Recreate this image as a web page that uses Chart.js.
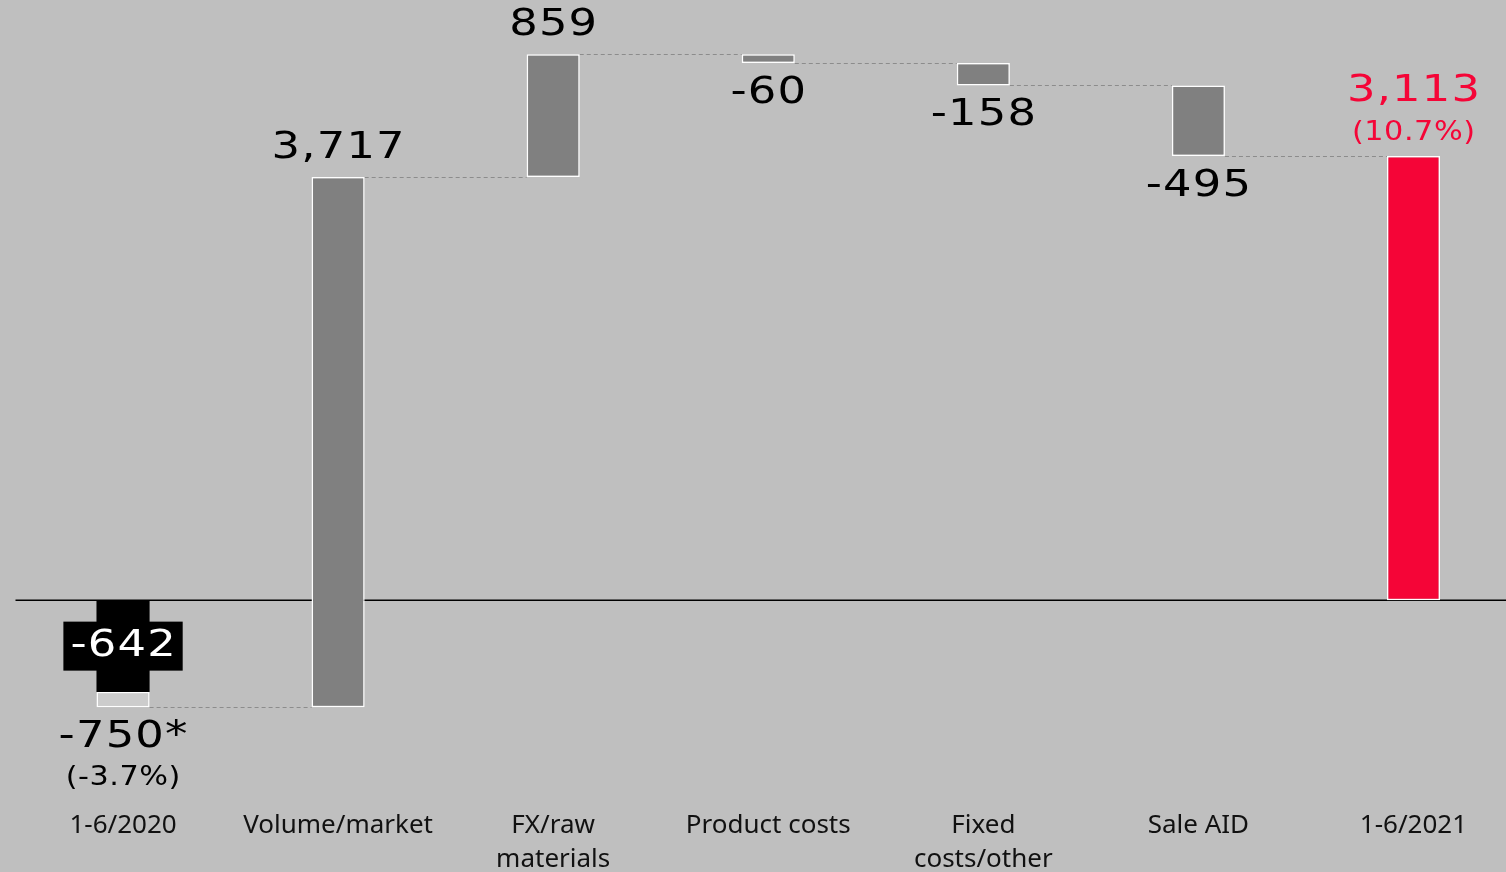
<!DOCTYPE html>
<html>
<head>
<meta charset="utf-8">
<script src="https://cdn.jsdelivr.net/npm/chart.js@4"></script>
<style>
    html, body { margin: 0; padding: 0; background: #bfbfbf; overflow: hidden; }
    #wrap { width: 1521px; height: 872px; position: relative; }
</style>
</head>
<body>
<div id="wrap"><canvas id="myChart"></canvas></div>
<script>
// données du graphique (en millions EUR)
const categories = [['1-6/2020'], ['Volume/market'], ['FX/raw', 'materials'], ['Product costs'], ['Fixed', 'costs/other'], ['Sale AID'], ['1-6/2021']];
const steps = [-750, 3717, 859, -60, -158, -495, 3113];
const isTotal = [true, false, false, false, false, false, true];
const reported2020 = -642;
const valueLabels = ['-750*', '3,717', '859', '-60', '-158', '-495', '3,113'];
const shareLabels = ['(-3.7%)', '', '', '', '', '', '(10.7%)'];
const barColors = ['#cccccc', '#808080', '#808080', '#808080', '#808080', '#808080', '#f50537'];
const labelColors = ['#000', '#000', '#000', '#000', '#000', '#000', '#f50537'];

// barres flottantes de la cascade
let running = 0;
const ranges = steps.map((v, i) => {
    if (isTotal[i]) {
        running = v;
        return i === 0 ? [reported2020, v] : [0, v];
    }
    const r = [running, running + v];
    running += v;
    return r;
});
const reportedRanges = categories.map((c, i) => i === 0 ? [0, reported2020] : null);

// texte élargi (police "extended")
function wideText(ctx, text, x, y, stretch, spacing) {
    ctx.save();
    ctx.letterSpacing = spacing + 'px';
    const w = (ctx.measureText(text).width - spacing) * stretch;
    ctx.translate(x - w / 2, y);
    ctx.scale(stretch, 1);
    ctx.textAlign = 'left';
    ctx.fillText(text, 0, 0);
    ctx.restore();
    return w;
}

const waterfallDecor = {
    id: 'waterfallDecor',
    beforeDatasetsDraw(chart) {
        const { ctx, chartArea, scales: { y } } = chart;
        const meta = chart.getDatasetMeta(1);
        ctx.save();
        // ligne zéro
        ctx.strokeStyle = '#000';
        ctx.lineWidth = 1.5;
        ctx.beginPath();
        ctx.moveTo(chartArea.left, y.getPixelForValue(0));
        ctx.lineTo(chartArea.right, y.getPixelForValue(0));
        ctx.stroke();
        // connecteurs pointillés
        ctx.strokeStyle = '#8c8c8c';
        ctx.lineWidth = 1;
        ctx.setLineDash([4, 3]);
        for (let i = 0; i < meta.data.length - 1; i++) {
            const a = meta.data[i], b = meta.data[i + 1];
            const py = Math.round(y.getPixelForValue(ranges[i][1])) + 0.5;
            ctx.beginPath();
            ctx.moveTo(a.x + a.width / 2, py);
            ctx.lineTo(b.x - b.width / 2, py);
            ctx.stroke();
        }
        ctx.restore();
    },
    afterDatasetsDraw(chart) {
        const { ctx } = chart;
        const meta = chart.getDatasetMeta(1);
        const big = '38px "DejaVu Sans"';
        const small = '27px "DejaVu Sans"';
        ctx.save();
        ctx.textBaseline = 'middle';
        meta.data.forEach((el, i) => {
            const top = Math.min(el.y, el.base);
            const bottom = Math.max(el.y, el.base);
            ctx.fillStyle = labelColors[i];
            if (steps[i] >= 0) {
                if (shareLabels[i]) {
                    ctx.font = big;
                    wideText(ctx, valueLabels[i], el.x, top - 65, 1.18, 1);
                    ctx.font = small;
                    wideText(ctx, shareLabels[i], el.x, top - 23, 1.12, 0.5);
                } else {
                    ctx.font = big;
                    wideText(ctx, valueLabels[i], el.x, top - 29, 1.18, 1);
                }
            } else {
                ctx.font = big;
                wideText(ctx, valueLabels[i], el.x, bottom + 30, 1.18, 1);
                if (shareLabels[i]) {
                    ctx.font = small;
                    wideText(ctx, shareLabels[i], el.x, bottom + 71, 1.12, 0.5);
                }
            }
        });
        // étiquette du résultat publié sur fond noir
        const rep = chart.getDatasetMeta(0).data[0];
        const cy = (rep.y + rep.base) / 2;
        const txt = String(reported2020);
        ctx.font = big;
        ctx.letterSpacing = '1px';
        const w = (ctx.measureText(txt).width - 1) * 1.18;
        ctx.letterSpacing = '0px';
        ctx.fillStyle = '#000';
        ctx.fillRect(rep.x - w / 2 - 7, cy - 24.5, w + 14, 49);
        ctx.fillStyle = '#fff';
        wideText(ctx, txt, rep.x, cy, 1.18, 1);
        ctx.restore();
    }
};

const config = {
    type: 'bar',
    data: {
        labels: categories,
        datasets: [{
            data: reportedRanges,
            backgroundColor: '#000',
            borderWidth: 0,
            order: 0
        }, {
            data: ranges,
            backgroundColor: barColors,
            borderColor: '#ffffff',
            borderWidth: 1.5,
            borderSkipped: false,
            order: 1
        }]
    },
    options: {
        responsive: true,
        maintainAspectRatio: false,
        animation: false,
        datasets: {
            bar: { grouped: false, barPercentage: 0.247, categoryPercentage: 1 }
        },
        layout: { padding: { left: 15.5, right: 0, top: 0, bottom: -12 } },
        plugins: {
            legend: { display: false },
            tooltip: { enabled: false }
        },
        scales: {
            x: {
                grid: { display: false },
                border: { display: false },
                ticks: {
                    color: '#111',
                    padding: 8,
                    maxRotation: 0,
                    autoSkip: false,
                    font: { family: '"Noto Sans"', size: 26, lineHeight: 1.3 }
                }
            },
            y: {
                display: false,
                min: -1346,
                max: 4207
            }
        }
    },
    plugins: [waterfallDecor]
};

new Chart(document.getElementById('myChart'), config);
</script>
</body>
</html>
